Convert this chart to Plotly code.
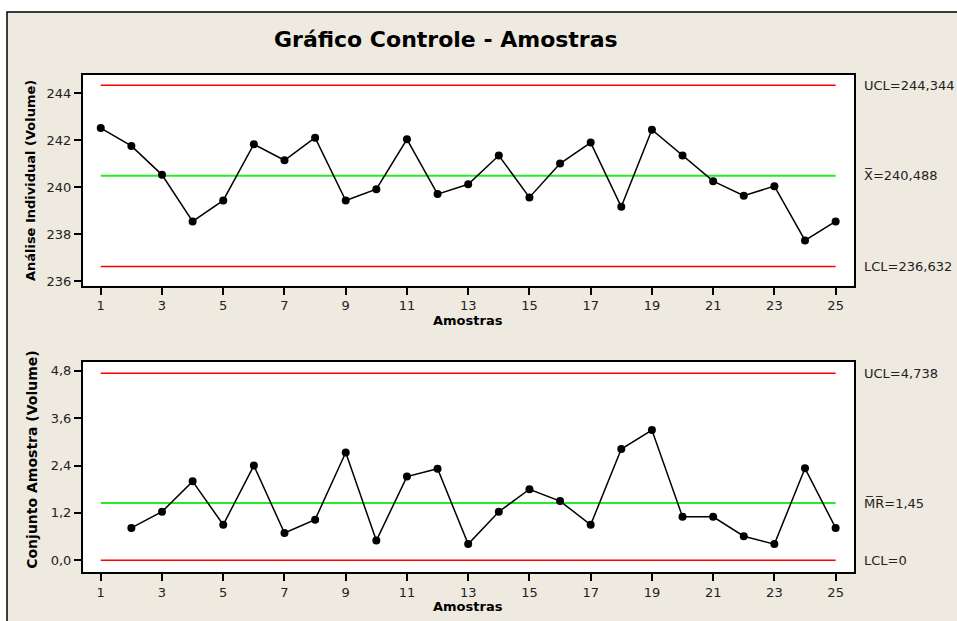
import plotly.graph_objects as go

amostras = list(range(1, 26))
individual = [242.52, 241.76, 240.53, 238.55, 239.44, 241.83, 241.15, 242.11, 239.44, 239.92,
              242.04, 239.71, 240.13, 241.35, 239.57, 241.01, 241.90, 239.17, 242.45, 241.35,
              240.26, 239.64, 240.05, 237.74, 238.55]
moving_range = [None, 0.82, 1.23, 2.00, 0.90, 2.40, 0.69, 1.03, 2.73, 0.50,
                2.12, 2.32, 0.41, 1.23, 1.80, 1.50, 0.90, 2.82, 3.30, 1.10,
                1.10, 0.61, 0.41, 2.33, 0.82]
i_ucl, i_cl, i_lcl = 244.344, 240.488, 236.632
mr_ucl, mr_cl, mr_lcl = 4.738, 1.45, 0.0
i_labels = ["UCL=244,344", "X\u0305=240,488", "LCL=236,632"]
mr_labels = ["UCL=4,738", "M\u0305R\u0305=1,45", "LCL=0"]
x_ticks = list(range(1, 26, 2))
i_ticks = [236, 238, 240, 242, 244]
mr_ticks = [0.0, 1.2, 2.4, 3.6, 4.8]

W, H = 957, 621
FONT = "DejaVu Sans"
RED = "#FF0000"
GREEN = "#22EE22"
BEIGE = "#EEEAE0"

fig = go.Figure()

def add_limits(xa, ya, ucl, cl, lcl):
    for val, col, w in [(ucl, RED, 1.5), (cl, GREEN, 2), (lcl, RED, 1.5)]:
        fig.add_trace(go.Scatter(x=[amostras[0], amostras[-1]], y=[val, val], mode="lines",
                                 line=dict(color=col, width=w), xaxis=xa, yaxis=ya,
                                 showlegend=False, hoverinfo="skip"))

add_limits("x", "y", i_ucl, i_cl, i_lcl)
fig.add_trace(go.Scatter(x=amostras, y=individual, mode="lines+markers",
                         line=dict(color="black", width=1.5),
                         marker=dict(color="black", size=8), xaxis="x", yaxis="y",
                         showlegend=False))
add_limits("x2", "y2", mr_ucl, mr_cl, mr_lcl)
fig.add_trace(go.Scatter(x=amostras, y=moving_range, mode="lines+markers",
                         line=dict(color="black", width=1.5),
                         marker=dict(color="black", size=8), xaxis="x2", yaxis="y2",
                         showlegend=False))

xdom = [83 / W, 854 / W]
axis_common = dict(showline=True, linecolor="black", linewidth=2, mirror=True,
                   ticks="outside", ticklen=7, tickwidth=1.5, tickcolor="black",
                   showgrid=False, zeroline=False,
                   tickfont=dict(family=FONT, size=13, color="#222222"))

fig.update_layout(
    width=W, height=H,
    margin=dict(l=0, r=0, t=0, b=0),
    paper_bgcolor="white", plot_bgcolor="white",
    separators=",.",
    font=dict(family=FONT, color="black"),
    xaxis=dict(domain=xdom, range=[0.42, 25.6], tickvals=x_ticks, anchor="y", **axis_common),
    yaxis=dict(domain=[1 - 287 / H, 1 - 75 / H], range=[235.82, 244.79], tickvals=i_ticks,
               anchor="x", **axis_common),
    xaxis2=dict(domain=xdom, range=[0.42, 25.6], tickvals=x_ticks, anchor="y2", **axis_common),
    yaxis2=dict(domain=[1 - 574.7 / H, 1 - 363.3 / H], range=[-0.295, 5.036], tickvals=mr_ticks,
                tickformat=".1f", anchor="x2", **axis_common),
    shapes=[
        dict(type="rect", xref="paper", yref="paper", x0=7 / W, x1=1.02,
             y0=-0.02, y1=1 - 12 / H, fillcolor=BEIGE,
             line=dict(color="black", width=1.5), layer="below"),
        dict(type="rect", xref="x domain", yref="y domain", x0=0, x1=1, y0=0, y1=1,
             fillcolor="white", line=dict(width=0), layer="below"),
        dict(type="rect", xref="x2 domain", yref="y2 domain", x0=0, x1=1, y0=0, y1=1,
             fillcolor="white", line=dict(width=0), layer="below"),
    ],
)

def pa(text, x, y, size, angle=0):
    return dict(text=text, x=x / W, y=1 - y / H, xref="paper", yref="paper",
                xanchor="center", yanchor="middle", textangle=angle, showarrow=False,
                font=dict(size=size, family=FONT, color="black"))

ann = [
    pa("<b>Gráfico Controle - Amostras</b>", 446, 40, 22),
    pa("<b>Amostras</b>", 468, 322, 13),
    pa("<b>Amostras</b>", 468, 609, 13),
    pa("<b>Análise Individual (Volume)</b>", 30, 182, 13, -90),
    pa("<b>Conjunto Amostra (Volume)</b>", 32, 462, 14, -90),
]
for lab, val in zip(i_labels, [i_ucl, i_cl, i_lcl]):
    ann.append(dict(text=lab, x=862 / W, y=val, xref="paper", yref="y", xanchor="left",
                    yanchor="middle", showarrow=False,
                    font=dict(size=13, family=FONT, color="#222222")))
for lab, val in zip(mr_labels, [mr_ucl, mr_cl, mr_lcl]):
    ann.append(dict(text=lab, x=862 / W, y=val, xref="paper", yref="y2", xanchor="left",
                    yanchor="middle", showarrow=False,
                    font=dict(size=13, family=FONT, color="#222222")))
fig.update_layout(annotations=ann)

fig.write_html("out.html", config={"displayModeBar": False},
               post_script="document.body.style.margin='0';")
